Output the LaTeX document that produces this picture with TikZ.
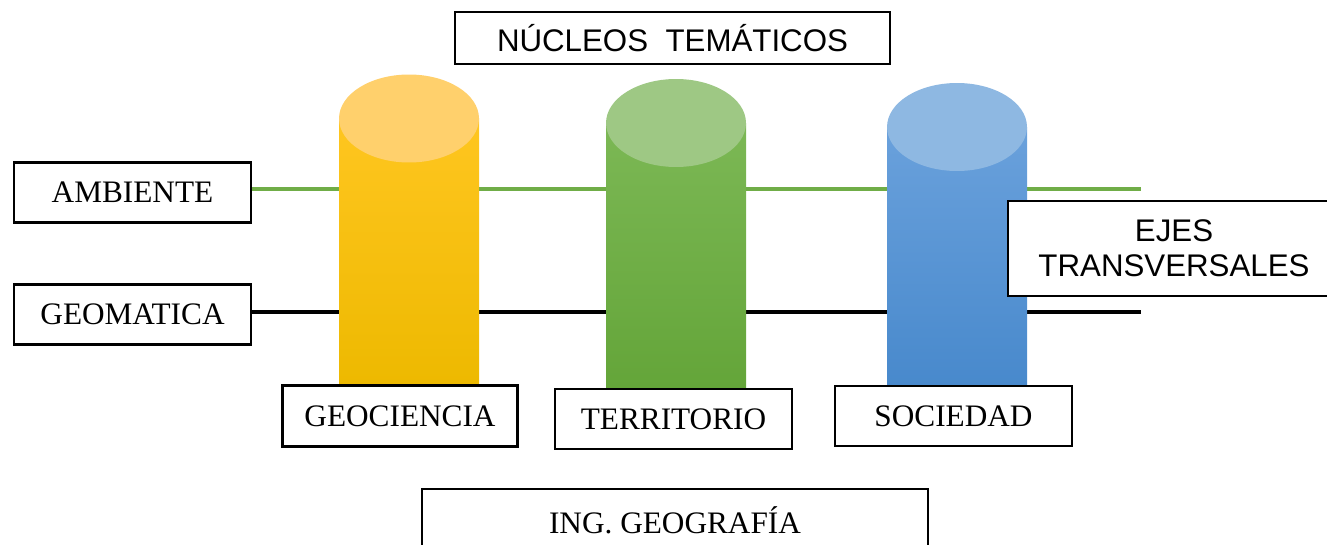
\documentclass[tikz,border=0pt]{standalone}
\usepackage{fontspec}
\setmainfont{Liberation Serif}
\newfontfamily\arialfont{Liberation Sans}
\usepackage{tikz}
\usetikzlibrary{positioning}
\pgfdeclarelayer{fondo}
\pgfsetlayers{fondo,main}

\definecolor{amarilloTop}{RGB}{255,208,108}
\definecolor{amarilloA}{RGB}{255,198,32}
\definecolor{amarilloB}{RGB}{237,185,0}
\definecolor{verdeTop}{RGB}{158,200,132}
\definecolor{verdeA}{RGB}{124,184,85}
\definecolor{verdeB}{RGB}{100,165,57}
\definecolor{azulTop}{RGB}{142,184,226}
\definecolor{azulA}{RGB}{106,161,220}
\definecolor{azulB}{RGB}{72,137,204}
\definecolor{lineaVerde}{RGB}{112,173,71}

\tikzset{
  caja/.style={draw=black, line width=1.3pt, fill=white, inner sep=0pt,
    font=\fontsize{17.8}{20}\selectfont, minimum width=4.74cm, minimum height=1.2cm},
  cajasans/.style={caja, font=\arialfont\fontsize{17.8}{20}\selectfont},
}

\begin{document}
\begin{tikzpicture}[x=0.02cm, y=-0.02cm]
        \useasboundingbox (0,0) rectangle (1327,544);

        % Ends of the transversal axes
        \coordinate (ambEnd) at (1141,189);
        \coordinate (geoEnd) at (1141,312);

        % Boxes
        \node[cajasans, minimum width=8.7cm, minimum height=1.04cm] (nucleos) at (672.5,38) {NÚCLEOS~~TEMÁTICOS};
        \node[caja] (amb) at (132.5,192.5) {AMBIENTE};
        \node[caja] (geom) at (132.5,314.5) {GEOMATICA};
        \node[caja, minimum width=4.7cm, minimum height=1.22cm] (geoc) at (400,416) {GEOCIENCIA};
        \node[caja] (terr) at (673.5,419) {TERRITORIO};
        \node[caja] (soc) at (953.5,416) {SOCIEDAD};
        \node[cajasans, align=center, minimum width=6.64cm, minimum height=1.9cm] (ejes) at (1174,248.5) {EJES\\TRANSVERSALES};
        \node[caja, minimum width=10.12cm, minimum height=1.26cm] (ing) at (675,520.5) {ING. GEOGRAFÍA};

        \begin{pgfonlayer}{fondo}
        % Transversal axes
        \draw[lineaVerde, line width=2.1pt] (amb.east |- ambEnd) -- (ambEnd);
        \draw[black, line width=2.5pt] (geom.east |- geoEnd) -- (geoEnd);

        % Cylinders
        \foreach \xa/\yc/\yb/\col in {339/118.5/386/amarillo, 606/123/389/verde, 887/127/386/azul}{
          \shade[top color=\col A, bottom color=\col B] (\xa,\yc) rectangle (\xa+140,\yb);
          \fill[\col Top] (\xa+70,\yc) ellipse [x radius=1.4cm, y radius=0.88cm];
        }
        \end{pgfonlayer}
\end{tikzpicture}
\end{document}
